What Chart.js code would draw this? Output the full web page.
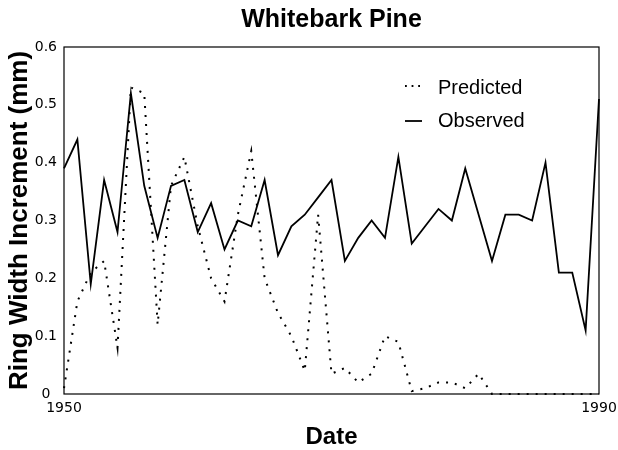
<!DOCTYPE html>
<html>
<head>
<meta charset="utf-8">
<script src="https://cdn.jsdelivr.net/npm/chart.js@4"></script>
<style>
  html, body { margin: 0; padding: 0; background: #fff; }
  #wrap { width: 618px; height: 450px; position: relative; }
</style>
</head>
<body>
<div id="wrap"><canvas id="c" width="618" height="450"></canvas></div>
<script>
const years = [1950, 1951, 1952, 1953, 1954, 1955, 1956, 1957, 1958, 1959,
               1960, 1961, 1962, 1963, 1964, 1965, 1966, 1967, 1968, 1969,
               1970, 1971, 1972, 1973, 1974, 1975, 1976, 1977, 1978, 1979,
               1980, 1981, 1982, 1983, 1984, 1985, 1986, 1987, 1988, 1989, 1990];
const predicted = [0.01, 0.16, 0.21, 0.23, 0.08, 0.53, 0.52, 0.12, 0.36, 0.41,
                   0.29, 0.20, 0.16, 0.31, 0.42, 0.20, 0.14, 0.10, 0.04, 0.31,
                   0.035, 0.045, 0.02, 0.035, 0.10, 0.09, 0.005, 0.01, 0.02, 0.02,
                   0.01, 0.035, 0, 0, 0, 0, 0, 0, 0, 0, 0];
const observed = [0.39, 0.44, 0.19, 0.37, 0.28, 0.52, 0.36, 0.27, 0.36, 0.37,
                  0.28, 0.33, 0.25, 0.30, 0.29, 0.37, 0.24, 0.29, 0.31, 0.34,
                  0.37, 0.23, 0.27, 0.30, 0.27, 0.41, 0.26, 0.29, 0.32, 0.30,
                  0.39, 0.31, 0.23, 0.31, 0.31, 0.30, 0.40, 0.21, 0.21, 0.11, 0.51];
const xTickValues = [1950, 1990];
const seriesNames = ['Predicted', 'Observed'];
const chartTitle = 'Whitebark Pine';
const xTitle = 'Date';
const yTitle = 'Ring Width Increment (mm)';

Chart.defaults.color = '#000';

const toPoints = (vals) => vals.map((v, i) => ({ x: years[i], y: v }));

const framePlugin = {
  id: 'frame',
  afterDatasetsDraw(chart) {
    const { ctx, chartArea: a } = chart;
    ctx.save();
    ctx.strokeStyle = '#000';
    ctx.lineWidth = 1.2;
    ctx.strokeRect(a.left, a.top, a.right - a.left, a.bottom - a.top);
    ctx.restore();
  }
};

const insideLegend = {
  id: 'insideLegend',
  afterDraw(chart) {
    const { ctx, chartArea: a } = chart;
    ctx.save();
    ctx.font = '20px "Liberation Sans", Arial, sans-serif';
    ctx.textBaseline = 'middle';
    ctx.textAlign = 'left';
    ctx.fillStyle = '#000';
    const rows = [a.top + 41, a.top + 74];
    chart.data.datasets.forEach((ds, i) => {
      const y = rows[i];
      const dotted = ds.borderDash && ds.borderDash.length;
      ctx.strokeStyle = '#000';
      ctx.lineWidth = 1.8;
      ctx.setLineDash(dotted ? [1.8, 4.8] : []);
      ctx.beginPath();
      ctx.moveTo(a.left + 341, y - (dotted ? 2 : 0));
      ctx.lineTo(a.left + 358, y - (dotted ? 2 : 0));
      ctx.stroke();
      ctx.setLineDash([]);
      ctx.fillText(ds.label, a.left + 374, y);
    });
    ctx.restore();
  }
};

new Chart(document.getElementById('c'), {
  type: 'line',
  data: {
    datasets: [
      {
        label: seriesNames[0],
        data: toPoints(predicted),
        borderColor: '#000',
        borderWidth: 2,
        borderDash: [2, 7],
        pointRadius: 0,
        tension: 0,
        clip: false
      },
      {
        label: seriesNames[1],
        data: toPoints(observed),
        borderColor: '#000',
        borderWidth: 1.8,
        pointRadius: 0,
        tension: 0,
        clip: false
      }
    ]
  },
  options: {
    responsive: false,
    animation: false,
    devicePixelRatio: 1,
    layout: { padding: { left: 0, right: 19, top: 0, bottom: 0 } },
    plugins: {
      legend: { display: false },
      tooltip: { enabled: false },
      title: {
        display: true,
        text: chartTitle,
        fullSize: false,
        color: '#000',
        font: { family: '"Liberation Sans", Arial, sans-serif', size: 25, weight: 'bold', lineHeight: 1.2 },
        padding: { top: 5, bottom: 12 }
      }
    },
    scales: {
      x: {
        type: 'linear',
        min: 1950,
        max: 1990,
        grid: { display: false, drawTicks: false },
        border: { display: false },
        afterBuildTicks: (scale) => { scale.ticks = xTickValues.map(v => ({ value: v })); },
        afterFit: (scale) => { scale.height = 56; scale.paddingLeft = 0; scale.paddingRight = 0; },
        ticks: {
          autoSkip: false,
          maxRotation: 0,
          padding: 6,
          color: '#000',
          font: { family: '"DejaVu Sans", sans-serif', size: 14 },
          callback: (v) => String(v)
        },
        title: {
          display: true,
          text: xTitle,
          color: '#000',
          font: { family: '"Liberation Sans", Arial, sans-serif', size: 24, weight: 'bold', lineHeight: 1 },
          padding: { top: 0, bottom: 1 }
        }
      },
      y: {
        min: 0,
        max: 0.6,
        grid: { display: false, drawTicks: false },
        border: { display: false },
        afterFit: (scale) => { scale.width = 64; scale.paddingTop = 0; scale.paddingBottom = 0; },
        ticks: {
          stepSize: 0.1,
          padding: 7,
          crossAlign: 'center',
          color: '#000',
          font: { family: '"DejaVu Sans", sans-serif', size: 14 }
        },
        title: {
          display: true,
          text: yTitle,
          color: '#000',
          font: { family: '"Liberation Sans", Arial, sans-serif', size: 26, weight: 'bold', lineHeight: 1 },
          padding: { top: 7, bottom: 0 }
        }
      }
    }
  },
  plugins: [framePlugin, insideLegend]
});
</script>
</body>
</html>
